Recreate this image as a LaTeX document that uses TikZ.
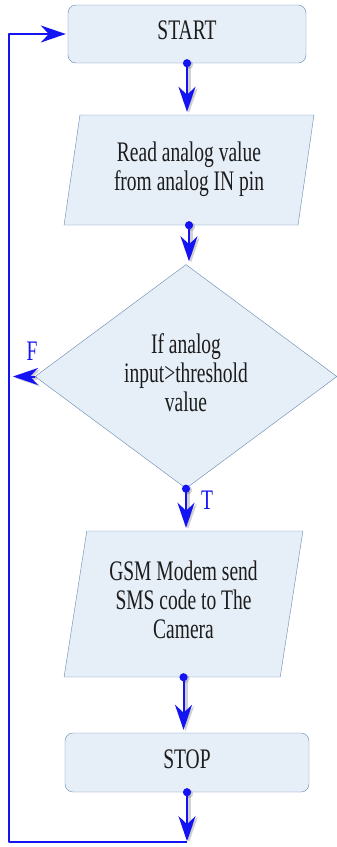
\documentclass[tikz,border=0pt]{standalone}
\usepackage{fontspec}
\setmainfont{Liberation Serif}
\usepackage{graphicx}
\usetikzlibrary{shapes.geometric,arrows.meta}

\definecolor{boxfill}{HTML}{E6EEF8}
\definecolor{boxline}{HTML}{6489B0}
\definecolor{flowblue}{HTML}{1414F2}
\definecolor{ink}{HTML}{1C1C1C}

% text in the boxes is set a bit taller than wide
\newcommand{\tall}[1]{\scalebox{1}[1.45]{\begin{tabular}{@{}c@{}}#1\end{tabular}}}

\tikzset{
  term/.style={draw=boxline, fill=boxfill, rounded corners=8pt, text=ink},
  io/.style={trapezium, trapezium stretches=true, draw=boxline, fill=boxfill, text=ink},
  test/.style={diamond, draw=boxline, fill=boxfill, text=ink},
  head/.style={-{Stealth[length=25pt,width=17pt,inset=8pt]}},
  haze/.style={preaction={draw=black, opacity=0.18, line width=4pt,
      transform canvas={shift={(2pt,-1.5pt)}}}},
  flow/.style={flowblue, line width=2pt, haze,
      {Circle[length=8pt]}-{Stealth[length=25pt,width=17pt,inset=8pt]},
      shorten <=-4pt, shorten >=3pt},
  back/.style={flowblue, line width=1.5pt},
  tf/.style={text=flowblue}
}

\begin{document}
\begin{tikzpicture}[x=1pt, y=-1pt, font=\fontsize{19.5}{20}\selectfont, line join=round]
\useasboundingbox (0,0) rectangle (337,847);

% boxes
\node[term, minimum width=238pt, minimum height=58pt] (start) at (187,34) {\tall{START}};
\node[io, trapezium left angle=80, trapezium right angle=100,
      minimum width=250pt, minimum height=110pt] (read) at (189,170)
      {\tall{Read analog value\\from analog IN pin}};
\node[test, minimum width=302pt, minimum height=213pt] (dec) at (186,376.5)
      {\tall{If analog\\input>threshold\\value}};
\node[io, trapezium left angle=79, trapezium right angle=101,
      minimum width=239pt, minimum height=146pt] (gsm) at (183.5,604)
      {\tall{GSM Modem send\\SMS code to The\\Camera}};
\node[term, minimum width=244pt, minimum height=59pt] (stop) at (187,762.5) {\tall{STOP}};

% labels of the test
\node[tf] (flbl) at (32,351) {\scalebox{1}[1.45]{F}};
\node[tf] (tlbl) at (207,500) {\scalebox{1}[1.45]{T}};

\coordinate (lft) at (9,0);
\path (stop.south) ++(0,50) coordinate (bot);

% arrows
\draw[flow] (start.south) -- (start.south |- read.north);
\draw[flow] (read.south) -- (read.south |- dec.north);
\draw[flow] (dec.south) -- (dec.south |- gsm.north);
\draw[flow] (gsm.south) -- (gsm.south |- stop.north);
\draw[flow, shorten >=1pt] (stop.south) -- (bot);
\draw[flowblue, line width=2pt, haze, head, shorten >=4pt] (dec.west) -- (dec.west -| lft);
\draw[back, head, shorten >=2pt] (bot) -| (lft |- start.west) -- (start.west);
\end{tikzpicture}
\end{document}
